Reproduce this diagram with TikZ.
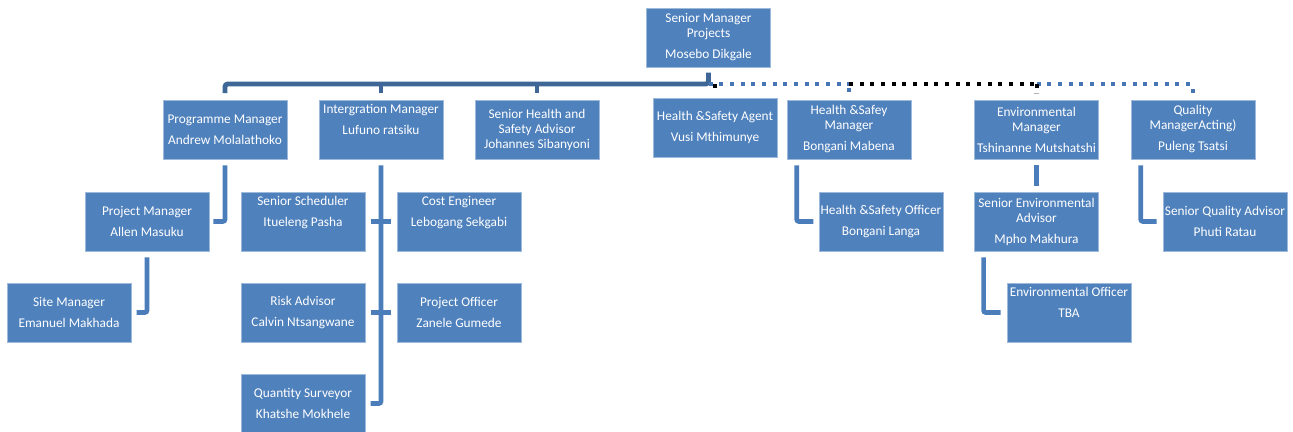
\documentclass[tikz,border=0pt]{standalone}
\usepackage{fontspec}
\setmainfont{Carlito}
\usepackage{tikz}

\definecolor{boxblue}{HTML}{4F81BD}
\definecolor{busblue}{HTML}{3E6797}
\definecolor{linkblue}{HTML}{4A7DBA}
\definecolor{dotblue}{HTML}{4676B3}

\begin{document}
\begin{tikzpicture}[x=0.75pt,y=-0.75pt,
		box/.style={draw=boxblue!55!white, line width=0.4pt, fill=boxblue, text=white,
			minimum width=93pt, minimum height=44.25pt, inner sep=0pt, align=center,
			font=\fontsize{10}{11.25}\selectfont},
		bus/.style={busblue, line width=3.6pt, rounded corners=2pt},
		link/.style={linkblue, line width=3.4pt, rounded corners=1.5pt},
		bluedots/.style={dotblue, line width=3pt, dash pattern=on 3pt off 5pt},
		blackdots/.style={black, line width=3pt, dash pattern=on 3pt off 5pt}]
				\useasboundingbox[fill=white] (0,0) rectangle (1293,432);

					%% top
					\node[box] (sm) at (708.5,37.5) {Senior Manager\\Projects\\[4.5pt]Mosebo Dikgale};

					%% first row
					\node[box] (pm) at (225,129.5) {Programme Manager\\[4.5pt]Andrew Molalathoko};
					\node[box] (im) at (381,129.5) {Intergration Manager\\[4.5pt]Lufuno ratsiku\\[4.5pt]\mbox{}};
					\node[box] (shsa) at (537,129.5) {Senior Health and\\Safety Advisor\\Johannes Sibanyoni};
					\node[box] (hsa) at (715,127.5) {Health \&Safety Agent\\[4.5pt]Vusi Mthimunye};
					\node[box] (hsm) at (849,129.5) {Health \&Safey\\Manager\\[4.5pt]Bongani Mabena};
					\node[box] (em) at (1036.5,129.5) {Environmental\\Manager\\[4.5pt]Tshinanne Mutshatshi};
					\node[box] (qm) at (1193,129.5) {Quality\\ManagerActing)\\[4.5pt]Puleng Tsatsi};

					%% second row
					\node[box] (prm) at (147,221.5) {Project Manager\\[4.5pt]Allen Masuku};
					\node[box] (ss) at (303,221.5) {Senior Scheduler\\[4.5pt]Itueleng Pasha\\[4.5pt]\mbox{}};
					\node[box] (ce) at (459,221.5) {Cost Engineer\\[4.5pt]Lebogang Sekgabi\\[4.5pt]\mbox{}};
					\node[box] (hso) at (881,221.5) {Health \&Safety Officer\\[4.5pt]Bongani Langa};
					\node[box] (sea) at (1036.5,221.5) {Senior Environmental\\Advisor\\[4.5pt]Mpho Makhura};
					\node[box] (sqa) at (1225,221.5) {Senior Quality Advisor\\[4.5pt]Phuti Ratau};

					%% third row
					\node[box] (stm) at (69,312.5) {Site Manager\\[4.5pt]Emanuel Makhada};
					\node[box] (ra) at (303,312.5) {Risk Advisor\\[4.5pt]Calvin Ntsangwane};
					\node[box] (po) at (459,312.5) {Project Officer\\[4.5pt]Zanele Gumede};
					\node[box] (eo) at (1069,312.5) {Environmental Officer\\[4.5pt]TBA\\[4.5pt]\mbox{}};

					%% fourth row
					\node[box] (qs) at (303,403.5) {Quantity Surveyor\\[4.5pt]Khatshe Mokhele};

					%% solid bus
					\coordinate (bus) at (708.5,84);
					\draw[bus] ([yshift=-4pt]sm.south) -- (bus) -| ([yshift=5pt]pm.north);
					\draw[bus] (bus -| im) -- ([yshift=5pt]im.north);
					\draw[bus] (bus -| shsa) -- ([yshift=5pt]shsa.north);

					%% dotted bus
					\draw[bluedots] (bus) -- (bus -| hsm);
					\draw[blackdots] (bus -| hsm) -- (bus -| em);
					\draw[bluedots] (bus -| em) -- (bus -| qm);
					\draw[blackdots] (bus -| hsa) -- ++(0,6);
					\draw[bluedots] ([yshift=6pt]hsm.north) -- ([yshift=9pt]hsm.north);
					\draw[blackdots] (bus -| em) -- ++(0,4);
					\draw[gray!60, line width=0.75pt] ([xshift=-2pt,yshift=4.5pt]em.north) -- ([xshift=2pt,yshift=4.5pt]em.north);
					\draw[bluedots] ([yshift=5pt]qm.north) -- ([yshift=9pt]qm.north);

					%% links
					\draw[link] ([yshift=-4.5pt]pm.south) |- ([xshift=3pt]prm.east);
					\draw[link] ([yshift=-4.5pt]prm.south) |- ([xshift=4pt]stm.east);
					\draw[link] ([yshift=-4.5pt]im.south) |- ([xshift=4pt]qs.east);
					\draw[link] ([xshift=4pt]ss.east) -- ([xshift=-4pt]ce.west);
					\draw[link] ([xshift=4pt]ra.east) -- ([xshift=-4pt]po.west);
					\draw[link] ([xshift=7.5pt,yshift=-4.5pt]hsm.south west) |- ([xshift=-4pt]hso.west);
					\draw[link] ([yshift=-4.5pt]em.south) -- ([yshift=4.5pt]sea.north);
					\draw[link] ([xshift=7pt,yshift=-4.5pt]sea.south west) |- ([xshift=-4.5pt]eo.west);
					\draw[link] ([xshift=7.5pt,yshift=-4.5pt]qm.south west) |- ([xshift=-4.5pt]sqa.west);
\end{tikzpicture}
\end{document}
